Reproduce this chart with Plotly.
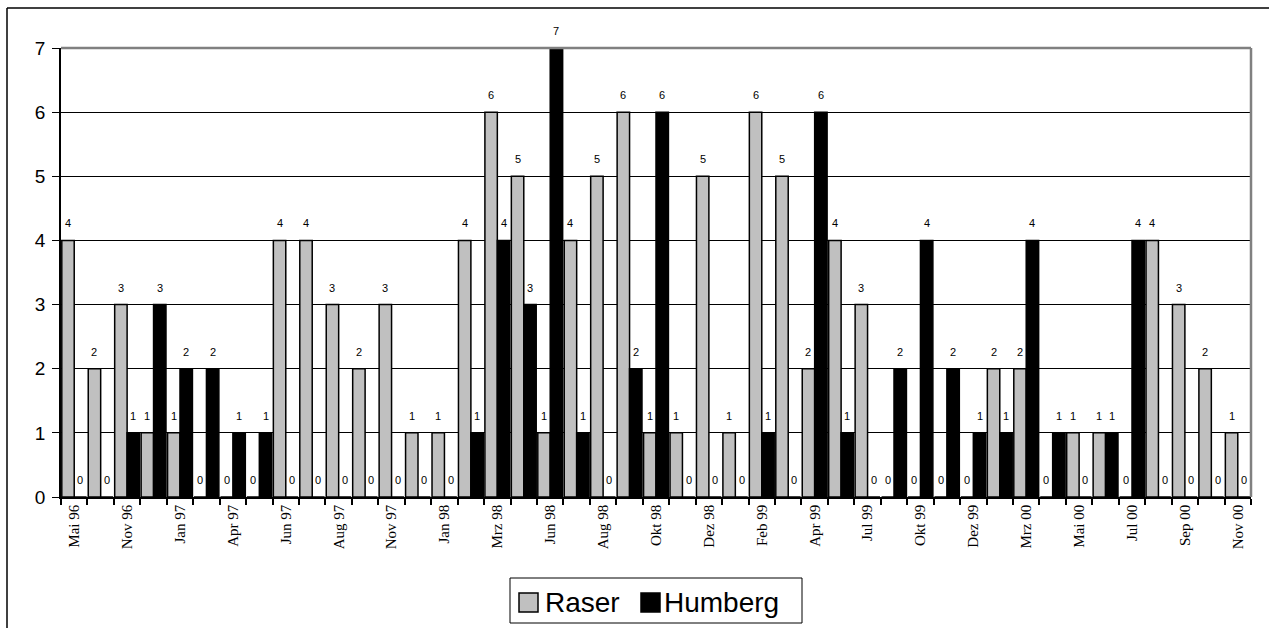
import plotly.graph_objects as go

tick_labels = ["Mai 96", "Nov 96", "Jan 97", "Apr 97", "Jun 97", "Aug 97", "Nov 97", "Jan 98",
               "Mrz 98", "Jun 98", "Aug 98", "Okt 98", "Dez 98", "Feb 99", "Apr 99", "Jul 99",
               "Okt 99", "Dez 99", "Mrz 00", "Mai 00", "Jul 00", "Sep 00", "Nov 00"]

raser = [4, 2, 3, 1, 1, 0, 0, 0, 4, 4, 3, 2, 3, 1, 1, 4, 6, 5, 1, 4, 5, 6, 1, 1, 5, 1, 6, 5, 2, 4,
         3, 0, 0, 0, 0, 2, 2, 0, 1, 1, 0, 4, 3, 2, 1]
humberg = [0, 0, 1, 3, 2, 2, 1, 1, 0, 0, 0, 0, 0, 0, 0, 1, 4, 3, 7, 1, 0, 2, 6, 0, 0, 0, 1, 0, 6, 1,
           0, 2, 4, 2, 1, 1, 4, 1, 0, 1, 4, 0, 0, 0, 0]

n = len(raser)
x = list(range(n))
GAP = 0.06
off = (1 - GAP) / 4

fig = go.Figure()
fig.add_trace(go.Bar(x=x, y=raser, name="Raser", marker=dict(color="#C0C0C0", line=dict(color="black", width=1.5))))
fig.add_trace(go.Bar(x=x, y=humberg, name="Humberg", marker=dict(color="black", line=dict(color="black", width=1.5))))

annots = []
for i in range(n):
    for val, dx in ((raser[i], -off), (humberg[i], off)):
        annots.append(dict(x=i + dx, y=val, xref="x", yref="y", text=str(val), showarrow=False,
                           yshift=17, font=dict(family="Liberation Sans, Arial", size=11, color="#000000")))

def px(xp):
    return (xp - 61) / 1190

def py(yp):
    return (497 - yp) / 449

# custom legend text
annots.append(dict(xref="paper", yref="paper", x=px(543), y=py(602), xanchor="left", yanchor="middle",
                   text="Raser", showarrow=False, font=dict(family="Liberation Sans, Arial", size=28, color="black")))
annots.append(dict(xref="paper", yref="paper", x=px(662), y=py(602), xanchor="left", yanchor="middle",
                   text="Humberg", showarrow=False, font=dict(family="Liberation Sans, Arial", size=28, color="black")))

shapes = [
    # outer chart border
    dict(type="line", xref="paper", yref="paper", x0=px(7), x1=px(1275), y0=py(8), y1=py(8), line=dict(color="black", width=1.5)),
    dict(type="line", xref="paper", yref="paper", x0=px(7), x1=px(7), y0=py(8), y1=py(640), line=dict(color="black", width=1.5)),
    # plot area top/right gray border
    dict(type="line", xref="paper", yref="paper", x0=0, x1=1, y0=1, y1=1, line=dict(color="#808080", width=2.5), layer="above"),
    dict(type="line", xref="paper", yref="paper", x0=1, x1=1, y0=0, y1=1, line=dict(color="#808080", width=2.5), layer="above"),
    # legend box and symbols
    dict(type="rect", xref="paper", yref="paper", x0=px(510), x1=px(802), y0=py(578), y1=py(623), line=dict(color="black", width=1), fillcolor="white"),
    dict(type="rect", xref="paper", yref="paper", x0=px(519), x1=px(538), y0=py(593), y1=py(612), line=dict(color="black", width=1.5), fillcolor="#C0C0C0"),
    dict(type="rect", xref="paper", yref="paper", x0=px(641), x1=px(660), y0=py(593), y1=py(612), line=dict(color="black", width=1.5), fillcolor="black"),
]

fig.update_layout(
    width=1269, height=628,
    margin=dict(l=61, r=18, t=48, b=131),
    paper_bgcolor="white", plot_bgcolor="white",
    barmode="group", bargap=GAP, bargroupgap=0,
    showlegend=False,
    annotations=annots,
    shapes=shapes,
    xaxis=dict(
        range=[-0.5, n - 0.5],
        tickmode="array",
        tickvals=list(range(0, n, 2)),
        ticktext=tick_labels,
        tickangle=-90,
        ticks="",
        ticklen=6,
        showgrid=False,
        showline=True, linecolor="black", linewidth=1.5,
        tickfont=dict(family="Liberation Serif, Times New Roman", size=15, color="black"),
        minor=dict(tickmode="array", tickvals=[i - 0.5 for i in range(n + 1)], ticks="outside",
                   ticklen=6, tickcolor="black", tickwidth=1.5, showgrid=False),
        zeroline=False,
        fixedrange=True,
    ),
    yaxis=dict(
        range=[0, 7],
        tickmode="linear", tick0=0, dtick=1,
        ticks="outside", ticklen=7, tickcolor="black", tickwidth=1,
        showgrid=True, gridcolor="black", gridwidth=1,
        showline=True, linecolor="black", linewidth=1.5,
        zeroline=False,
        tickfont=dict(family="Liberation Sans, Arial", size=19, color="black"),
        ticklabelstandoff=3,
    ),
)

fig.write_html("out.html")
